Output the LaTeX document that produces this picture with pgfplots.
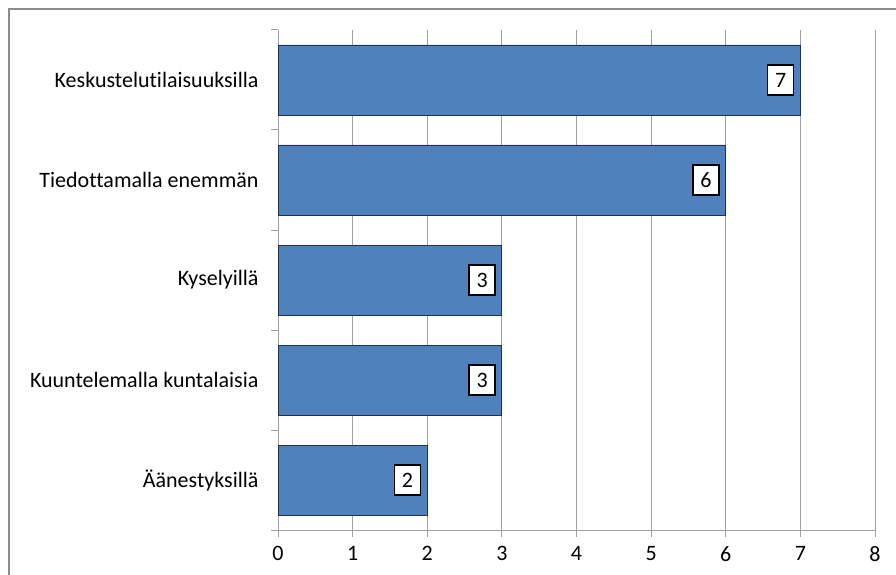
\documentclass[border=0pt]{standalone}
\usepackage{fontspec}
\setmainfont{Carlito}[Ligatures=NoCommon]
\usepackage{pgfplots}
\pgfplotsset{compat=1.18}
\definecolor{barblue}{HTML}{4F81BD}
\definecolor{baredge}{HTML}{1F3350}
\definecolor{gridgray}{HTML}{A0A0A0}
\begin{document}
\begin{tikzpicture}[x=1pt,y=1pt]
\useasboundingbox (0,0) rectangle (896,574);
% chart frame, cut by the page on the right and at the bottom
\draw[gray!90, line width=1.6pt] (9,-20) -- (9,565) -- (920,565);
\begin{axis}[
    at={(278pt,44pt)}, anchor=south west,
    scale only axis,
    width=597pt, height=500pt,
    xbar, bar width=0.7,
    xmin=0, xmax=8,
    ymin=-0.5, ymax=4.5,
    xtick={0,...,8},
    ytick={0,...,4},
    yticklabels={Äänestyksillä, Kuuntelemalla kuntalaisia, Kyselyillä,
                 Tiedottamalla enemmän, Keskustelutilaisuuksilla},
    minor ytick={-0.5,0.5,...,4.5},
    axis x line*=bottom, axis y line*=left,
    axis line style={gridgray, line width=1pt, -},
    xmajorgrids, grid style={gridgray, line width=1pt},
    tick align=outside,
    major tick length=7pt, minor tick length=7pt,
    x tick style={gridgray, line width=1pt},
    y tick style={draw=none},
    minor y tick style={draw=gridgray, line width=1pt},
    tick label style={font=\fontsize{22}{26}\selectfont, text=black},
    /pgf/number format/assume math mode=true,
    xticklabel style={yshift=-6pt},
    yticklabel style={xshift=-9pt},
    nodes near coords,
    every node near coord/.append style={
        anchor=east, xshift=-6pt, draw=black, fill=white, line width=1.6pt,
        inner sep=0pt, minimum width=26pt, minimum height=30pt,
        font=\fontsize{22}{26}\selectfont, text=black},
]
\addplot[fill=barblue, draw=baredge, line width=0.8pt]
    coordinates {(2,0) (3,1) (3,2) (6,3) (7,4)};
\end{axis}
\end{tikzpicture}
\end{document}
